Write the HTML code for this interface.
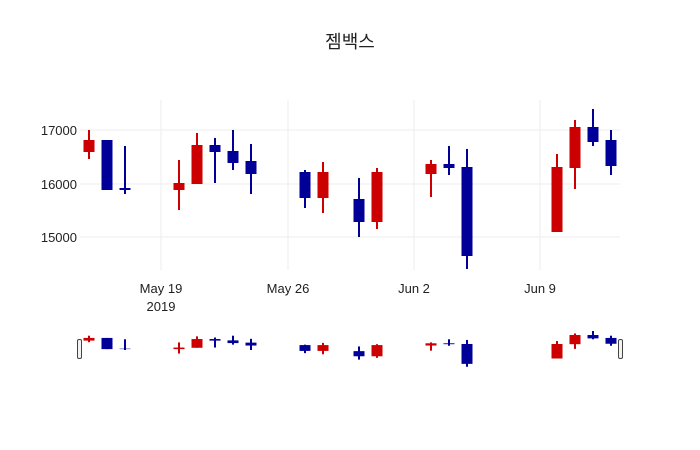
<!DOCTYPE html>
<html><head><meta charset="utf-8"><style>
html,body{margin:0;padding:0;background:#fff;}
svg{display:block;font-family:"Liberation Sans","Noto Sans CJK KR",sans-serif;}
</style></head><body>
<svg id="s" width="700" height="450" xmlns="http://www.w3.org/2000/svg">
<rect width="700" height="450" fill="#fff"/>
<text x="350" y="48" text-anchor="middle" font-size="18" fill="#222">젬백스</text>
<g stroke="#eee" stroke-width="1">
<line x1="161" y1="100" x2="161" y2="270"/><line x1="288" y1="100" x2="288" y2="270"/>
<line x1="414" y1="100" x2="414" y2="270"/><line x1="540" y1="100" x2="540" y2="270"/>
<line x1="80" y1="130" x2="620" y2="130"/><line x1="80" y1="184" x2="620" y2="184"/><line x1="80" y1="237" x2="620" y2="237"/>
</g>
<g font-size="13" fill="#222" text-anchor="end">
<text x="77" y="135">17000</text><text x="77" y="189">16000</text><text x="77" y="242">15000</text>
</g>
<g font-size="13" fill="#222" text-anchor="middle">
<text x="161" y="293">May 19</text><text x="161" y="311">2019</text>
<text x="288" y="293">May 26</text><text x="414" y="293">Jun 2</text><text x="540" y="293">Jun 9</text>
</g>
<g id="main"></g>
<g id="slider" transform="translate(0,306.63) scale(1,0.2236)"></g>
<rect x="77.5" y="339.5" width="4" height="19" rx="1.5" fill="#f2f2f2" stroke="#444" stroke-width="1"/>
<rect x="618.5" y="339.5" width="4" height="19" rx="1.5" fill="#f2f2f2" stroke="#444" stroke-width="1"/>
</svg>
<script>
var R="#cc0000",B="#000099";
var d=[
[89,140,152,130,159,R],[107,140,190,140,190,B],[125,188,190,146,194,B],
[179,183,190,160,210,R],[197,145,184,133,184,R],[215,145,152,138,183,B],
[233,151,163,130,170,B],[251,161,174,144,194,B],[305,172,198,170,208,B],
[323,172,198,162,213,R],[359,199,222,178,237,B],[377,172,222,168,229,R],
[431,164,174,160,197,R],[449,164,168,146,175,B],[467,167,256,149,269,B],
[557,167,232,154,232,R],[575,127,168,120,189,R],[593,127,142,109,146,B],
[611,140,166,130,175,B]];
function build(id){
 var g=document.getElementById(id),h="";
 d.forEach(function(c){
  h+='<line x1="'+c[0]+'" x2="'+c[0]+'" y1="'+c[3]+'" y2="'+c[4]+'" stroke="'+c[5]+'" stroke-width="2"/>';
  h+='<rect x="'+(c[0]-5.5)+'" y="'+c[1]+'" width="11" height="'+Math.max(2,c[2]-c[1])+'" fill="'+c[5]+'"/>';
 });
 g.innerHTML=h;
}
build("main");build("slider");
</script>
</body></html>
